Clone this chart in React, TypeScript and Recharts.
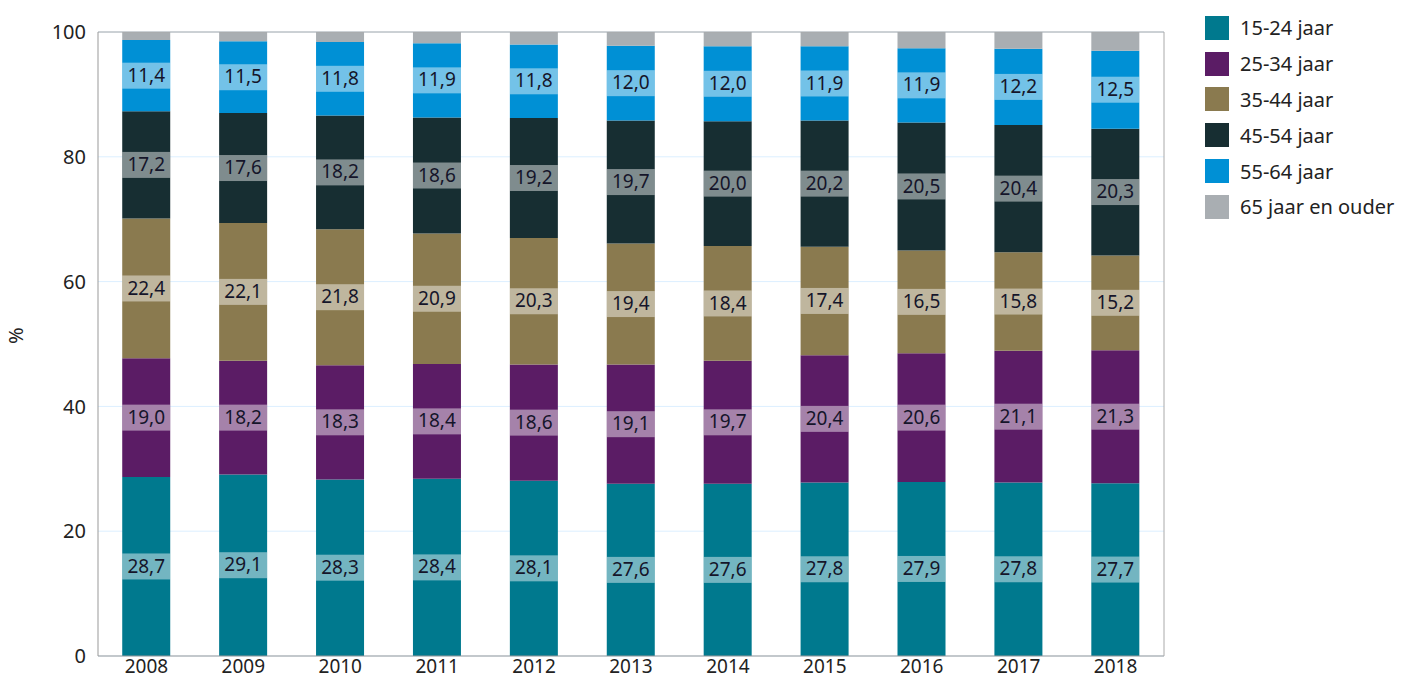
import React from 'react';
import { BarChart, Bar, XAxis, YAxis, CartesianGrid, Legend, LabelList, ReferenceLine } from 'recharts';

const years = ['2008', '2009', '2010', '2011', '2012', '2013', '2014', '2015', '2016', '2017', '2018'];
const age15_24 = [28.7, 29.1, 28.3, 28.4, 28.1, 27.6, 27.6, 27.8, 27.9, 27.8, 27.7];
const age25_34 = [19.0, 18.2, 18.3, 18.4, 18.6, 19.1, 19.7, 20.4, 20.6, 21.1, 21.3];
const age35_44 = [22.4, 22.1, 21.8, 20.9, 20.3, 19.4, 18.4, 17.4, 16.5, 15.8, 15.2];
const age45_54 = [17.2, 17.6, 18.2, 18.6, 19.2, 19.7, 20.0, 20.2, 20.5, 20.4, 20.3];
const age55_64 = [11.4, 11.5, 11.8, 11.9, 11.8, 12.0, 12.0, 11.9, 11.9, 12.2, 12.5];
const age65plus = [1.3, 1.5, 1.6, 1.8, 2.0, 2.2, 2.3, 2.3, 2.6, 2.7, 3.0];
const yTicks = [0, 20, 40, 60, 80, 100];

const series = [
  { key: 'a', name: '15-24 jaar', values: age15_24, color: '#00798e', label: true },
  { key: 'b', name: '25-34 jaar', values: age25_34, color: '#5b1c65', label: true },
  { key: 'c', name: '35-44 jaar', values: age35_44, color: '#8a7a4f', label: true },
  { key: 'd', name: '45-54 jaar', values: age45_54, color: '#172e32', label: true },
  { key: 'e', name: '55-64 jaar', values: age55_64, color: '#0090d5', label: true },
  { key: 'f', name: '65 jaar en ouder', values: age65plus, color: '#a9aeb2', label: false },
];

const data = years.map((y, i) => {
  const row: any = { year: y };
  series.forEach((s) => (row[s.key] = s.values[i]));
  return row;
});

const FONT = '"Noto Sans", "DejaVu Sans", sans-serif';

const BoxLabel = (props: any) => {
  const { x, y, width, height, value } = props;
  const cy = y + height / 2;
  const h = 26;
  return (
    <g>
      <rect x={x} y={cy - h / 2} width={width} height={h} fill="#ffffff" fillOpacity={0.45} />
      <text x={x + width / 2} y={cy + 1} textAnchor="middle" dominantBaseline="middle" fontSize={19} fill="#15152a" fontFamily={FONT}>
        {Number(value).toFixed(1).replace('.', ',')}
      </text>
    </g>
  );
};

const LegendContent = () => (
  <div style={{ fontFamily: FONT, fontSize: 20, color: '#222' }}>
    {series.map((s) => (
      <div key={s.key} style={{ display: 'flex', alignItems: 'center', height: 35.8, whiteSpace: 'nowrap' }}>
        <div style={{ width: 24, height: 24, background: s.color, marginRight: 11, flex: 'none' }} />
        <span>{s.name}</span>
      </div>
    ))}
  </div>
);

export default function App() {
  return (
    <div style={{ position: 'absolute', left: 0, top: 0 }}>
      <BarChart
        width={1401}
        height={679}
        data={data}
        margin={{ top: 32, right: 40, bottom: 0, left: 0 }}
        barCategoryGap="25%"
      >
        <CartesianGrid vertical={false} stroke="#dcefff" />
        <XAxis
          dataKey="year"
          height={23}
          tickLine={false}
          axisLine={{ stroke: '#999999' }}
          tick={{ fontSize: 19, fill: '#222', fontFamily: FONT, dy: -2 }}
          tickMargin={0}
          interval={0}
        />
        <YAxis
          domain={[0, 100]}
          ticks={yTicks}
          width={98}
          tickLine={false}
          axisLine={{ stroke: '#999999' }}
          tick={{ fontSize: 20, fill: '#222', fontFamily: FONT }}
          tickMargin={6}
          label={{ value: '%', angle: -90, position: 'insideLeft', offset: 16, style: { fontSize: 20, fill: '#222', fontFamily: FONT } }}
        />
        <YAxis yAxisId="right" orientation="right" width={1} tick={false} tickLine={false} axisLine={{ stroke: '#aaaaaa' }} domain={[0, 100]} />
        <ReferenceLine y={100} stroke="#aaaaaa" />
        <Legend
          layout="vertical"
          align="right"
          verticalAlign="top"
          content={<LegendContent />}
          wrapperStyle={{ left: 1205, top: 10, width: 196 }}
        />
        {series.map((s) => (
          <Bar key={s.key} dataKey={s.key} name={s.name} stackId="s" fill={s.color} isAnimationActive={false}>
            {s.label && <LabelList dataKey={s.key} content={<BoxLabel />} />}
          </Bar>
        ))}
      </BarChart>
    </div>
  );
}
